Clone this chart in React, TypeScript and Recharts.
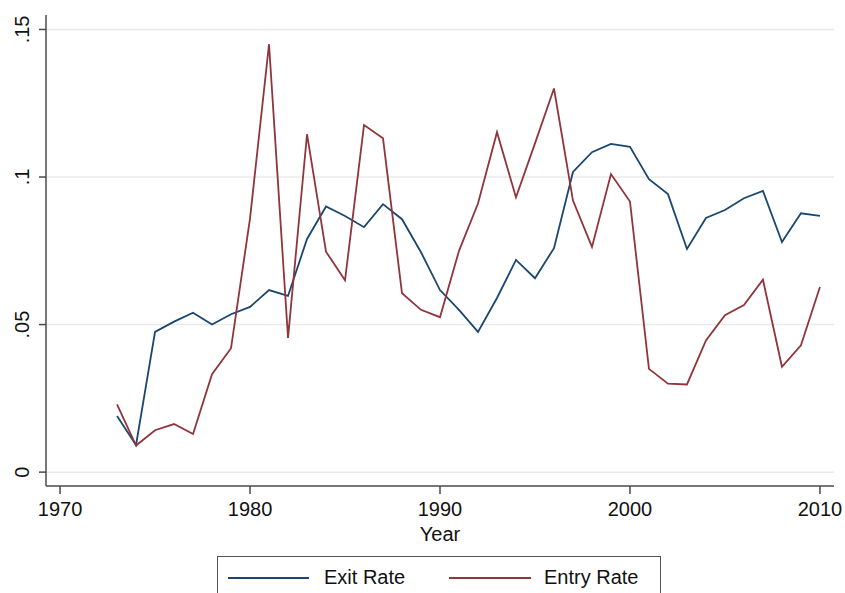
import React from "react";
import { LineChart, Line, XAxis, YAxis, CartesianGrid } from "recharts";

const years = [
  1973, 1974, 1975, 1976, 1977, 1978, 1979, 1980, 1981, 1982, 1983, 1984, 1985,
  1986, 1987, 1988, 1989, 1990, 1991, 1992, 1993, 1994, 1995, 1996, 1997, 1998,
  1999, 2000, 2001, 2002, 2003, 2004, 2005, 2006, 2007, 2008, 2009, 2010,
];

const exitRate = [
  0.019, 0.0092, 0.0475, 0.051, 0.054, 0.05, 0.0535, 0.056, 0.0617, 0.0597,
  0.079, 0.09, 0.0868, 0.083, 0.0908, 0.0857, 0.0745, 0.0617, 0.055, 0.0475,
  0.059, 0.0719, 0.0657, 0.0759, 0.1017, 0.1084, 0.1112, 0.1102, 0.0993,
  0.0942, 0.0756, 0.0861, 0.0888, 0.0928, 0.0953, 0.078, 0.0877, 0.0868,
];

const entryRate = [
  0.023, 0.009, 0.0142, 0.0163, 0.0129, 0.0332, 0.042, 0.086, 0.145, 0.0455,
  0.1145, 0.0747, 0.065, 0.1176, 0.1131, 0.0606, 0.055, 0.0525, 0.075, 0.091,
  0.1152, 0.0931, 0.1114, 0.13, 0.092, 0.0763, 0.101, 0.0917, 0.035, 0.03,
  0.0297, 0.0446, 0.0532, 0.0566, 0.0652, 0.0357, 0.043, 0.0627,
];

const xTicks = [1970, 1980, 1990, 2000, 2010];
const yTicks = [0, 0.05, 0.1, 0.15];
const yTickLabels = ["0", ".05", ".1", ".15"];

const data = years.map((year, i) => ({
  year,
  exit: exitRate[i],
  entry: entryRate[i],
}));

const FONT = "'Liberation Sans', Arial, Helvetica, sans-serif";
const BLUE = "#1a476f";
const RED = "#90353b";
const AXIS = "#4a4a4a";

const YTick = (props: any) => {
  const { y, payload } = props;
  const idx = yTicks.indexOf(payload.value);
  const label = idx >= 0 ? yTickLabels[idx] : String(payload.value);
  return (
    <text
      x={29}
      y={y}
      transform={`rotate(-90, 29, ${y})`}
      textAnchor="middle"
      fontSize={20}
      fontFamily={FONT}
      fill="#111"
    >
      {label}
    </text>
  );
};

export default function App() {
  return (
    <div
      style={{
        position: "absolute",
        left: 0,
        top: 0,
        width: 845,
        height: 593,
        background: "#fff",
        overflow: "hidden",
        fontFamily: FONT,
      }}
    >
      <LineChart
        width={845}
        height={593}
        data={data}
        margin={{ top: 15, right: 11, left: 0, bottom: 47 }}
      >
        <CartesianGrid
          vertical={false}
          stroke="#eaeaea"
          strokeWidth={1.5}
          horizontalValues={yTicks}
        />
        <XAxis
          dataKey="year"
          type="number"
          domain={[1969.26, 2010.74]}
          ticks={xTicks}
          allowDataOverflow
          height={60}
          tickSize={8}
          tickMargin={8}
          stroke={AXIS}
          strokeWidth={1.5}
          tick={{ fontSize: 20, fontFamily: FONT, fill: "#111" }}
          label={{
            value: "Year",
            position: "insideBottom",
            offset: 5,
            fontSize: 20,
            fontFamily: FONT,
            fill: "#111",
          }}
        />
        <YAxis
          type="number"
          domain={[-0.0047, 0.1549]}
          ticks={yTicks}
          allowDataOverflow
          width={46}
          tickSize={7}
          stroke={AXIS}
          strokeWidth={1.5}
          tick={<YTick />}
        />
        <Line
          dataKey="exit"
          name="Exit Rate"
          stroke={BLUE}
          strokeWidth={1.8}
          dot={false}
          isAnimationActive={false}
        />
        <Line
          dataKey="entry"
          name="Entry Rate"
          stroke={RED}
          strokeWidth={1.8}
          dot={false}
          isAnimationActive={false}
        />
      </LineChart>
      <div
        style={{
          position: "absolute",
          left: 217,
          top: 556,
          width: 444,
          height: 60,
          border: "1.5px solid #555",
          boxSizing: "border-box",
        }}
      >
        <div
          style={{
            position: "absolute",
            left: 10,
            top: 20,
            width: 81,
            height: 0,
            borderTop: `2px solid ${BLUE}`,
          }}
        />
        <div
          style={{
            position: "absolute",
            left: 106,
            top: 8,
            fontSize: 20,
            lineHeight: "24px",
            color: "#111",
            whiteSpace: "nowrap",
          }}
        >
          Exit Rate
        </div>
        <div
          style={{
            position: "absolute",
            left: 231,
            top: 20,
            width: 82,
            height: 0,
            borderTop: `2px solid ${RED}`,
          }}
        />
        <div
          style={{
            position: "absolute",
            left: 326,
            top: 8,
            fontSize: 20,
            lineHeight: "24px",
            color: "#111",
            whiteSpace: "nowrap",
          }}
        >
          Entry Rate
        </div>
      </div>
    </div>
  );
}
